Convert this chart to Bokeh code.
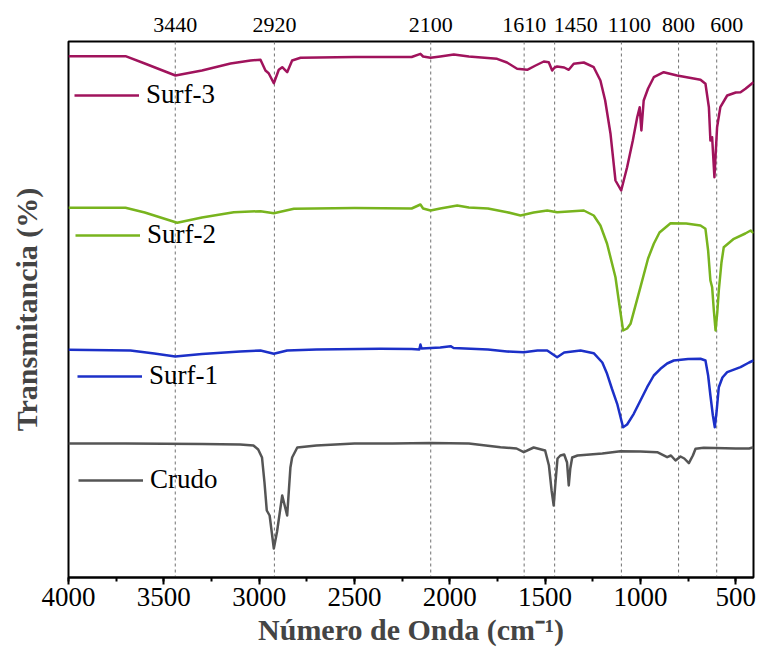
from bokeh.plotting import figure
from bokeh.models import (Range1d, LinearAxis, FixedTicker, SingleIntervalTicker,
                          Span, Legend, LegendItem)
from bokeh.embed import file_html
from bokeh.resources import INLINE

# FTIR spectra: wavenumber (cm-1) and offset transmittance (arbitrary units)
crudo_wn = [4000, 3700, 3300, 3100, 3030, 3005, 2985, 2972, 2960, 2945, 2923, 2906, 2879,
            2853, 2836, 2827, 2800, 2700, 2500, 2300, 2100, 1900, 1734, 1650, 1612, 1560,
            1500, 1480, 1466, 1455, 1447, 1435, 1420, 1400, 1385, 1376, 1368, 1358, 1330,
            1200, 1105, 1000, 912, 860, 840, 816, 790, 770, 746, 725, 711, 668, 500, 430, 407]
crudo_t = [134, 134, 133.5, 133, 132, 128, 120, 95, 67, 62, 29, 46, 82,
           62, 110, 120, 130, 132, 134, 134, 134.5, 134, 130.3, 129, 125.3, 130,
           127, 112, 87, 72, 92, 119, 122, 123, 115, 92, 109, 120, 122,
           124, 126.3, 126, 125.3, 120.3, 122, 117, 121, 119, 114.3, 122, 128.7, 129.7, 129, 129, 130.3]

surf1_wn = [4000, 3675, 3550, 3440, 3300, 3100, 2993, 2923, 2853, 2700, 2363, 2200, 2160,
            2154, 2148, 2050, 1996, 1980, 1800, 1700, 1612, 1540, 1489, 1437, 1400, 1314,
            1245, 1200, 1175, 1150, 1122, 1100, 1091, 1070, 1035, 1000, 965, 930, 895, 860,
            825, 750, 685, 659, 645, 633, 620, 610, 600, 589, 570, 545, 475, 430, 407]
surf1_t = [227.7, 227, 224, 221, 223.5, 226, 227, 223.7, 227, 228, 228.7, 228.5, 228,
           233, 229, 230, 231.3, 229.5, 228, 226, 225.3, 227, 227, 220.3, 225, 227,
           224.3, 215, 203.7, 189, 173.7, 157, 150.3, 153, 163.7, 177, 190.3, 202, 208.7, 214,
           217, 218.5, 218.7, 217, 202, 182, 162, 150.3, 167, 190.3, 200, 205.3, 210.3, 215, 217]

surf2_wn = [4000, 3701, 3600, 3430, 3300, 3133, 2993, 2923, 2818, 2500, 2200, 2154, 2140,
            2101, 2050, 1961, 1900, 1800, 1699, 1629, 1560, 1489, 1437, 1297, 1245, 1210,
            1175, 1131, 1110, 1091, 1070, 1052, 1000, 960, 930, 900, 842, 760, 685, 659,
            645, 633, 624, 615, 606, 597, 589, 575, 563, 510, 450, 422, 407]
surf2_t = [369.7, 369.7, 365, 354.7, 360, 365.3, 366.3, 364.3, 368.7, 369.5, 369, 373, 369,
           367, 369, 372, 370, 369, 365.3, 362, 365, 367, 365.3, 367, 362, 352,
           333.7, 300.3, 272, 247, 249, 253.7, 290.3, 319, 333.7, 345, 354.3, 354, 352, 348.7,
           327, 297, 290.3, 267, 247, 265, 287, 315, 330.3, 338.7, 344, 347, 344.3]

surf3_wn = [4000, 3701, 3600, 3439, 3300, 3150, 3045, 2993, 2967, 2950, 2923, 2897, 2879,
            2853, 2827, 2783, 2500, 2200, 2154, 2140, 2101, 2050, 1979, 1900, 1752, 1700,
            1647, 1594, 1550, 1507, 1481, 1463, 1450, 1437, 1400, 1376, 1350, 1297, 1245,
            1210, 1185, 1157, 1131, 1101, 1070, 1040, 1017, 1004, 995, 983, 960, 930, 878,
            808, 750, 685, 659, 641, 633, 624, 612, 598, 581, 545, 500, 475, 449, 407]
surf3_t = [521.3, 521.3, 514, 502, 507, 514, 517, 517.7, 507, 504.3, 494.3, 507.7, 510.3,
           505.3, 517, 519.7, 520.5, 520.5, 523.7, 521, 519.7, 521, 523, 521, 518.7, 515,
           508.7, 507.7, 512, 516, 515.3, 507, 510, 511, 510, 507.7, 513.7, 515, 510.3,
           497, 477, 443.7, 397, 387, 410.3, 437, 460.3, 470.3, 447, 477, 489, 500.3, 505.3,
           502, 500, 497.7, 493.7, 470.3, 437, 440.3, 400.3, 450.3, 470.3, 482, 485, 485.3, 488.7, 495.3]

band_positions = [3440, 2920, 2100, 1610, 1450, 1100, 800, 600]
band_labels = ["3440", "2920", "2100", "1610", "1450", "1100", "800", "600"]
# sideways nudge (px, to the right) of crowded band labels
band_label_nudge = [0, 0, 0, 0, 21, 8, 0, 10]

series_names = ["Surf-3", "Surf-2", "Surf-1", "Crudo"]
series_colors = ["#a0135c", "#78b41e", "#1c30c8", "#555555"]

FONT = "Liberation Serif"
X_START, X_END = 4000, 407
FRAME_W = 685
px_per_unit = FRAME_W / (X_START - X_END)

p = figure(width=759, height=659, output_backend="svg", toolbar_location=None,
           x_range=Range1d(X_START, X_END), y_range=Range1d(0, 536),
           min_border_left=68, min_border_right=6, min_border_top=41, min_border_bottom=82)
p.background_fill_color = "white"
p.border_fill_color = "white"
p.outline_line_color = "black"
p.outline_line_width = 2
p.xgrid.visible = False
p.ygrid.visible = False

# bottom wavenumber axis
xa = p.xaxis[0]
xa.ticker = SingleIntervalTicker(interval=500, num_minor_ticks=2)
xa.axis_label = "Número de Onda (cm⁻¹)"
xa.axis_label_text_font = FONT
xa.axis_label_text_font_style = "bold"
xa.axis_label_text_font_size = "30px"
xa.axis_label_standoff = 4
xa.major_label_text_font = FONT
xa.major_label_text_font_size = "27px"
xa.major_label_text_color = "black"
xa.major_label_standoff = 3
xa.major_tick_in = 0
xa.major_tick_out = 7
xa.minor_tick_in = 0
xa.minor_tick_out = 4
xa.major_tick_line_width = 2
xa.minor_tick_line_width = 2
xa.axis_line_width = 2

# left axis: title only
ya = p.yaxis[0]
ya.ticker = FixedTicker(ticks=[])
ya.axis_line_color = None
ya.major_tick_line_color = None
ya.minor_tick_line_color = None
ya.axis_label = "Transmitancia (%)"
ya.axis_label_text_font = FONT
ya.axis_label_text_font_style = "bold"
ya.axis_label_text_font_size = "30px"
ya.axis_label_standoff = 26

# top axis naming the band positions
label_ticks = [b - n / px_per_unit for b, n in zip(band_positions, band_label_nudge)]
top = LinearAxis(ticker=FixedTicker(ticks=label_ticks, minor_ticks=[]),
                 major_label_overrides={t: s for t, s in zip(label_ticks, band_labels)},
                 axis_line_color=None, major_tick_line_color=None, minor_tick_line_color=None,
                 major_label_text_font=FONT, major_label_text_font_size="22px",
                 major_label_text_color="black", major_label_standoff=4)
p.add_layout(top, "above")

# dashed guide lines at the band positions
for wn in band_positions:
    p.add_layout(Span(location=wn, dimension="height", line_color="#707070",
                      line_width=1, line_dash="3 3", level="underlay"))

spectra = [(surf3_wn, surf3_t), (surf2_wn, surf2_t), (surf1_wn, surf1_t), (crudo_wn, crudo_t)]
renderers = []
for (wn, t), color in zip(spectra, series_colors):
    renderers.append(p.line(wn, t, line_color=color, line_width=2.5, line_join="round"))

# inline legend entries next to each spectrum
legend_spots = [(6, 467), (7, 327), (9, 186), (10, 82)]
for name, r, spot in zip(series_names, renderers, legend_spots):
    lg = Legend(items=[LegendItem(label=name, renderers=[r])], location=spot,
                padding=0, margin=0, spacing=0, glyph_width=65, glyph_height=30,
                label_height=30, label_standoff=7,
                label_text_font=FONT, label_text_font_size="27px",
                label_text_color="black",
                background_fill_alpha=0, border_line_color=None)
    p.add_layout(lg, "center")

open("out.html", "w").write(file_html(p, INLINE))
